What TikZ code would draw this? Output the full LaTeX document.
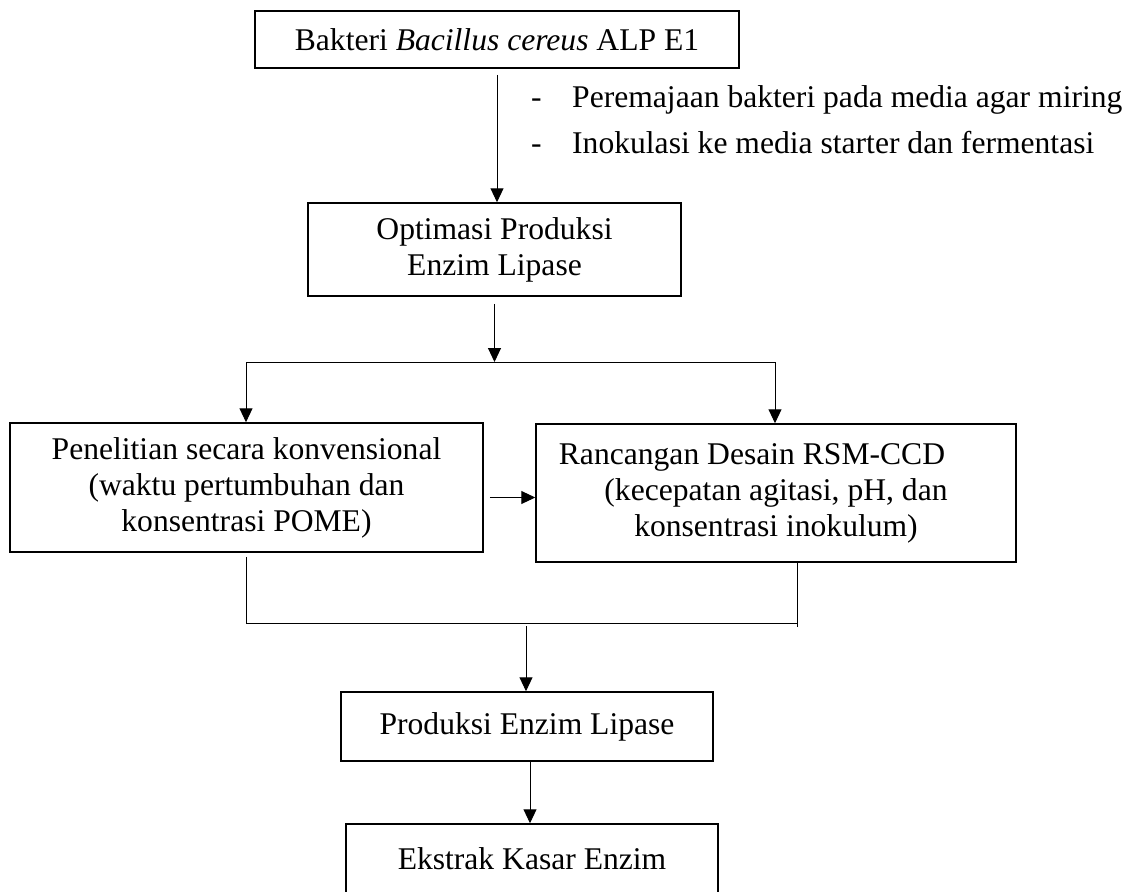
\documentclass[tikz,border=0pt]{standalone}
\usepackage{fontspec}
\setmainfont{Liberation Serif}
\usetikzlibrary{arrows.meta,calc}
\tikzset{
  box/.style={draw, line width=1.5pt, inner sep=0pt, align=center},
  conn/.style={line width=1pt},
  arr/.style={conn, -{Triangle[length=14pt,width=13pt]}},
  side/.style={inner sep=0pt, anchor=west},
}
\begin{document}
\begin{tikzpicture}[x=1pt,y=-1pt, every node/.style={font=\fontsize{31.6pt}{36pt}\selectfont}]
\clip (0,0) rectangle (1137,891);
\node[box, minimum width=484pt, minimum height=57pt] (b1) at (497,39.5) {Bakteri \textit{Bacillus cereus} ALP E1};
\node[box, minimum width=373pt, minimum height=93pt] (b2) at (494.5,249.5) {Optimasi Produksi\\Enzim Lipase};
\node[box, minimum width=473pt, minimum height=129pt] (b3) at (246.5,487.5) {Penelitian secara konvensional\\(waktu pertumbuhan dan\\konsentrasi POME)};
\node[box, minimum width=480pt, minimum height=138pt] (b4) at (776,493) {Rancangan Desain RSM-CCD\hspace*{48pt}\\(kecepatan agitasi, pH, dan\\konsentrasi inokulum)};
\node[box, minimum width=372pt, minimum height=69pt] (b5) at (527,726.5) {Produksi Enzim Lipase};
\node[box, minimum width=372pt, minimum height=70pt] (b6) at (532,859) {Ekstrak Kasar Enzim};

\node[side] (t1) at (531,100) {-\hspace{30.5pt}Peremajaan bakteri pada media agar miring};
\node[side] (t2) at (531,143) {-\hspace{30.5pt}Inokulasi ke media starter dan fermentasi};

\draw[arr] ([yshift=-6pt]b1.south) -- (b1.south |- b2.north);
\coordinate (s1) at (494.5,362);
\coordinate (sl) at (246,362);
\coordinate (sr) at (775,362);
\draw[arr] ([yshift=-7pt]b2.south) -- (s1);
\draw[conn] (sl) -- (sr);
\draw[arr] (sl) -- (sl |- b3.north);
\draw[arr] (sr) -- (sr |- b4.north);
\draw[arr] ([xshift=6pt,yshift=-10pt]b3.east) -- ([yshift=-10pt]b3.east -| b4.west);

\coordinate (jl) at (246,623);
\coordinate (jr) at (797,623);
\draw[conn] ($(jl |- b3.south)+(0,4)$) -- (jl) -- (jr);
\draw[conn] (jr |- b4.south) -- ($(jr)+(0,4)$);
\coordinate (jm) at (526,626);
\draw[arr] (jm) -- (jm |- b5.north);
\coordinate (m5) at ($(b5.south)+(3,0)$);
\draw[arr] (m5) -- (m5 |- b6.north);
\end{tikzpicture}
\end{document}
